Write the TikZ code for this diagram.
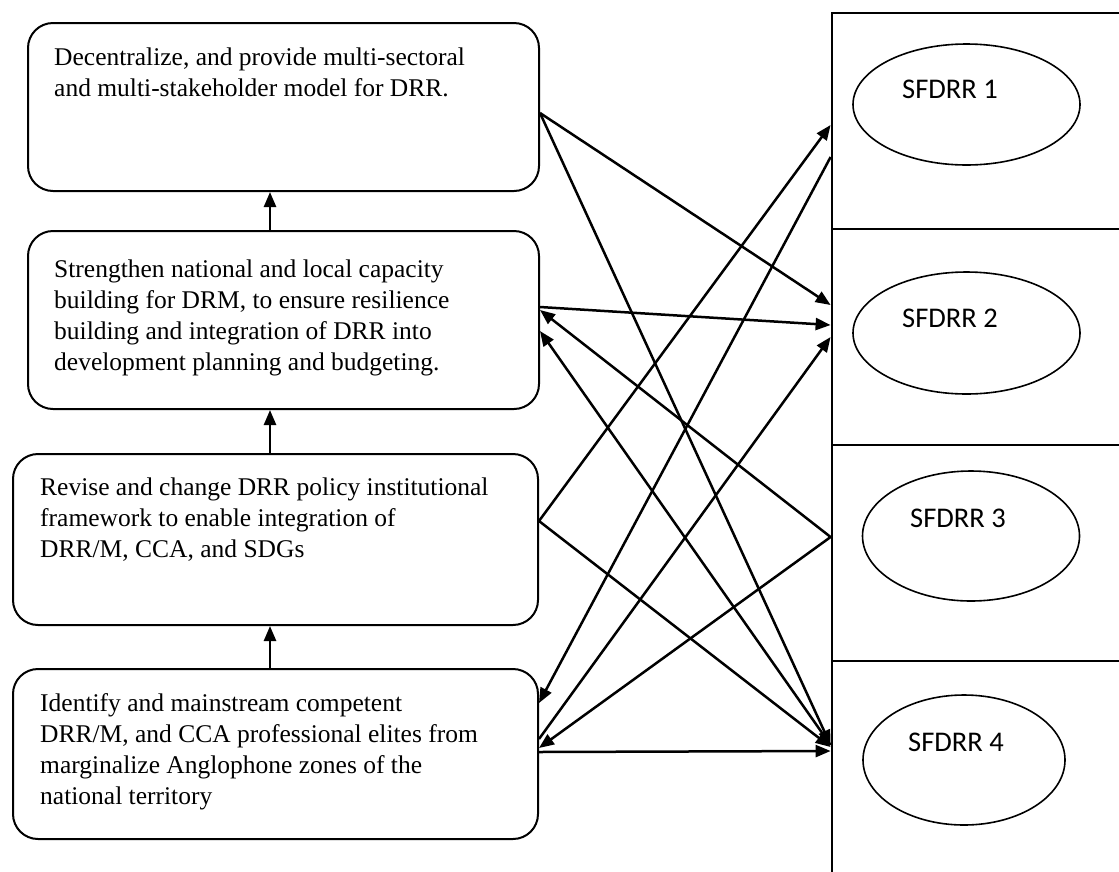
\documentclass[tikz,border=0pt]{standalone}
\usepackage{fontspec}
\setmainfont{Liberation Serif}
\newfontfamily\labelfont{Carlito}
\usetikzlibrary{arrows.meta,shapes.geometric}

\begin{document}
\begin{tikzpicture}[x=1pt,y=-1pt,
  stepbox/.style={draw, line width=2pt, rounded corners=25pt, inner sep=0pt, anchor=north west},
  boxtext/.style={anchor=north west, inner sep=0pt, align=left, font=\fontsize{25.5}{31}\selectfont},
  section/.style={draw, line width=2.8pt, inner sep=0pt, minimum width=291pt, minimum height=216pt},
  goal/.style={draw, ellipse, line width=1.6pt, inner sep=0pt},
  goaltext/.style={anchor=base west, inner sep=0pt, font=\labelfont\fontsize{28.5}{34}\selectfont},
  link/.style={line width=2.5pt, -{Triangle[length=15pt,width=12pt]}},
]
\useasboundingbox (0,0) rectangle (1119,871);

% strategy boxes
\node[stepbox, minimum width=511pt, minimum height=168pt] (box1) at (27,22) {};
\node[stepbox, minimum width=511pt, minimum height=178pt] (box2) at (27,230) {};
\node[stepbox, minimum width=525pt, minimum height=171pt] (box3) at (12,453) {};
\node[stepbox, minimum width=525pt, minimum height=170pt] (box4) at (12,668) {};

\node[boxtext] (t1) at (54,47.5) {Decentralize, and provide multi-sectoral\\and multi-stakeholder model for DRR.};
\node[boxtext] (t2) at (54,259.5) {Strengthen national and local capacity\\building for DRM, to ensure resilience\\building and integration of DRR into\\development planning and budgeting.};
\node[boxtext] (t3) at (40,477.5) {Revise and change DRR policy institutional\\framework to enable integration of\\DRR/M, CCA, and SDGs};
\node[boxtext] (t4) at (40,693.5) {Identify and mainstream competent\\DRR/M, and CCA professional elites from\\marginalize Anglophone zones of the\\national territory};

% Sendai framework column
\node[section] (sec1) at (977.5,121) {};
\node[section] (sec2) at (977.5,337) {};
\node[section] (sec3) at (977.5,553) {};
\node[section] (sec4) at (977.5,769) {};

\node[goal, minimum width=227pt, minimum height=121pt] (goal1) at (966.5,104.5) {};
\node[goal, minimum width=227pt, minimum height=122pt] (goal2) at (966.5,333) {};
\node[goal, minimum width=217pt, minimum height=130pt] (goal3) at (971,536) {};
\node[goal, minimum width=202pt, minimum height=130pt] (goal4) at (964,760) {};

\node[goaltext] (lab1) at (902,98.5) {SFDRR 1};
\node[goaltext] (lab2) at (902,327) {SFDRR 2};
\node[goaltext] (lab3) at (910,527) {SFDRR 3};
\node[goaltext] (lab4) at (908,751) {SFDRR 4};

% upward chain between boxes
\coordinate (ax) at (270,0);
\draw[link] (box2.north -| ax) -- (box1.south -| ax);
\draw[link] (box3.north -| ax) -- (box2.south -| ax);
\draw[link] (box4.north -| ax) -- (box3.south -| ax);

% links between strategies and SFDRR priorities
\draw[link] ([yshift=-6pt]box1.east) -- ([yshift=32pt]sec2.west);
\draw[link] ([yshift=-6pt]box1.east) -- ([yshift=24pt]sec4.west);
\draw[link] ([yshift=18.5pt]box3.east) -- ([yshift=-4pt]sec1.west);
\draw[link] ([yshift=-36pt]sec1.west) -- ([yshift=51pt]box4.east);
\draw[link] ([yshift=13pt]box2.east) -- ([yshift=12pt]sec2.west);
\draw[link] ([yshift=15pt]box4.east) -- (sec2.west);
\draw[link] ([yshift=16pt]sec3.west) -- ([yshift=10pt]box2.east);
\draw[link] ([yshift=24pt]sec4.west) -- ([yshift=-11pt]box2.east);
\draw[link] ([yshift=18.5pt]box3.east) -- ([yshift=22pt]sec4.west);
\draw[link] ([yshift=16pt]sec3.west) -- ([yshift=6pt]box4.east);
\draw[link] ([yshift=2pt]box4.east) -- ([yshift=18pt]sec4.west);
\end{tikzpicture}
\end{document}
